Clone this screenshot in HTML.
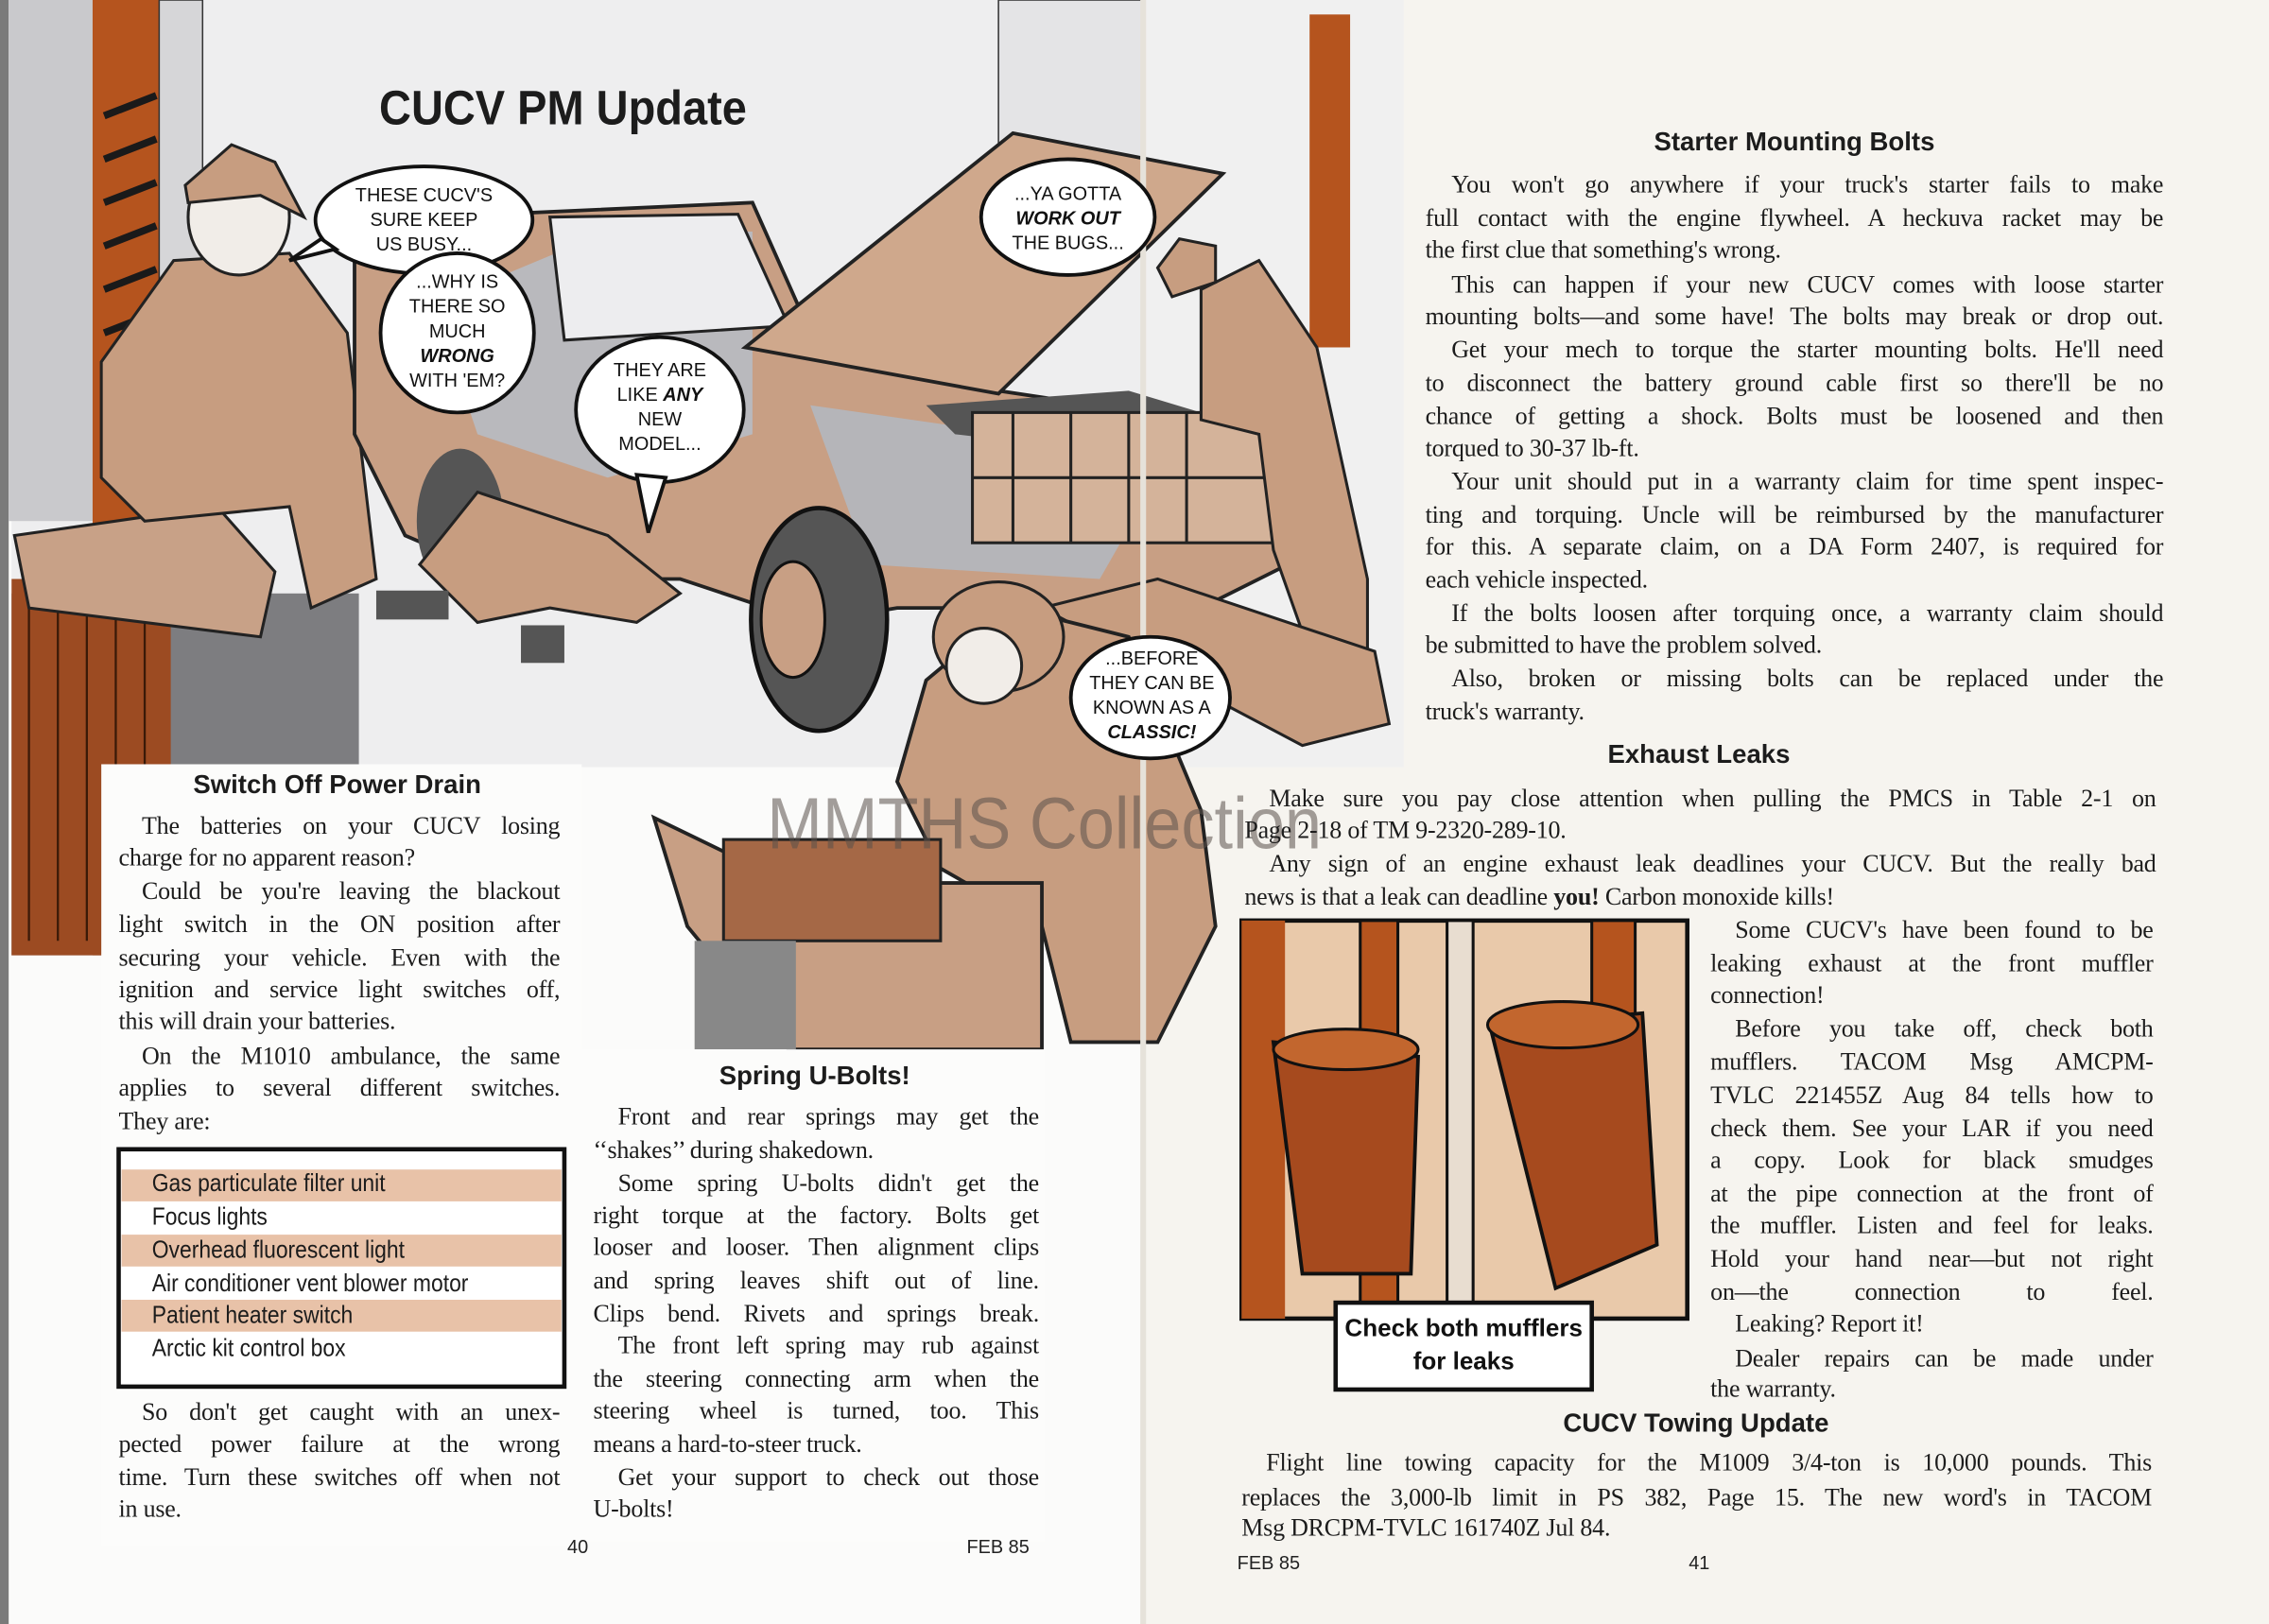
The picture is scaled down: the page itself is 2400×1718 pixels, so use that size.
<!DOCTYPE html>
<html><head><meta charset="utf-8">
<style>
html,body{margin:0;padding:0;background:#f3f0ea;}
#wrap{position:absolute;left:0;top:0;width:1568px;height:1122px;transform:scale(1.53061,1.5312);transform-origin:0 0;overflow:hidden;background:#f5f3ee;}
.l{position:absolute;font-family:"Liberation Serif",serif;font-size:17px;line-height:20px;color:#1c1c1c;white-space:normal;letter-spacing:-0.15px;}
.j{text-align:justify;text-align-last:justify;}
.h{position:absolute;font-family:"Liberation Sans",sans-serif;font-weight:bold;font-size:18px;color:#1c1c1c;transform:translateX(-50%);white-space:nowrap;}
.t{position:absolute;font-family:"Liberation Sans",sans-serif;font-size:17px;color:#1c1c1c;transform:scaleX(0.88);transform-origin:0 0;white-space:nowrap;}
.pn{position:absolute;font-family:"Liberation Sans",sans-serif;font-size:13px;color:#222;}
.b{position:absolute;font-family:"Liberation Sans",sans-serif;font-size:13px;line-height:17px;color:#111;text-align:center;white-space:nowrap;}
</style></head><body>
<div id="wrap">
<svg width="1568" height="1122" style="position:absolute;left:0;top:0">
 <rect x="0" y="0" width="790" height="1122" fill="#fbfbfa"/>
 <rect x="790" y="0" width="778" height="1122" fill="#f6f4ef"/>
 <rect x="8" y="0" width="782" height="530" fill="#eeeeef"/>
 <rect x="790" y="0" width="180" height="530" fill="#f0f0f0"/>
 <rect x="0" y="0" width="6" height="1122" fill="#7a7a7a"/>
 <rect x="6" y="0" width="60" height="360" fill="#c9c9cc"/>
 <rect x="64" y="0" width="46" height="660" fill="#b5541e"/>
 <g stroke="#1a1a1a" stroke-width="5">
  <line x1="72" y1="80" x2="108" y2="66"/><line x1="72" y1="110" x2="108" y2="96"/><line x1="72" y1="140" x2="108" y2="126"/><line x1="72" y1="170" x2="108" y2="156"/><line x1="72" y1="200" x2="108" y2="186"/><line x1="72" y1="230" x2="108" y2="216"/><line x1="72" y1="260" x2="108" y2="246"/>
 </g>
 <rect x="110" y="0" width="30" height="330" fill="#d6d6d8" stroke="#333"/>
 <rect x="690" y="0" width="100" height="140" fill="#e4e4e6" stroke="#333"/>
 <rect x="905" y="10" width="28" height="230" fill="#b5541e"/>
 <rect x="8" y="410" width="240" height="250" fill="#7d7d80"/>
 <rect x="8" y="400" width="110" height="260" fill="#9c4b22"/>
 <g stroke="#3a1a08" stroke-width="1.5"><line x1="20" y1="420" x2="20" y2="650"/><line x1="40" y1="420" x2="40" y2="650"/><line x1="60" y1="420" x2="60" y2="650"/><line x1="80" y1="420" x2="80" y2="650"/><line x1="100" y1="420" x2="100" y2="650"/></g>
 <polygon points="10,370 150,350 190,395 180,440 20,420" fill="#c8a187" stroke="#222" stroke-width="2"/>
 <polygon points="70,250 120,180 200,175 240,230 260,400 215,420 200,350 100,360 70,330" fill="#c79d80" stroke="#222" stroke-width="2"/>
 <ellipse cx="165" cy="150" rx="35" ry="40" fill="#f1ede8" stroke="#222" stroke-width="2"/>
 <polygon points="128,128 160,100 190,112 210,150 180,135 130,140" fill="#c79d80" stroke="#222" stroke-width="2"/>
 <polygon points="245,180 300,150 520,140 560,230 690,270 890,300 890,390 830,420 620,420 560,430 470,400 350,400 280,370 245,300" fill="#c89f84" stroke="#222" stroke-width="2.5"/>
 <polygon points="300,210 420,160 520,160 520,300 420,330 330,300" fill="#b9b9bd"/>
 <polygon points="560,280 700,300 800,330 760,400 600,390" fill="#b5b5b9"/>
 <polygon points="380,150 510,148 545,225 390,235" fill="#ededef" stroke="#222" stroke-width="2"/>
 <polygon points="515,240 700,92 845,120 690,272" fill="#cfa88c" stroke="#222" stroke-width="2.5"/>
 <polygon points="640,280 780,270 880,300 830,320 660,300" fill="#555"/>
 <rect x="672" y="285" width="210" height="90" fill="#d4b39a" stroke="#222" stroke-width="2"/>
 <g stroke="#222" stroke-width="2"><line x1="700" y1="285" x2="700" y2="375"/><line x1="740" y1="285" x2="740" y2="375"/><line x1="780" y1="285" x2="780" y2="375"/><line x1="820" y1="285" x2="820" y2="375"/><line x1="672" y1="330" x2="882" y2="330"/></g>
 <ellipse cx="566" cy="428" rx="47" ry="77" fill="#555" stroke="#111" stroke-width="3"/>
 <ellipse cx="548" cy="428" rx="22" ry="40" fill="#c89f84" stroke="#111" stroke-width="2"/>
 <ellipse cx="318" cy="360" rx="30" ry="50" fill="#555"/>
 <polygon points="290,390 330,340 420,370 470,410 440,430 380,420 330,430" fill="#c79d80" stroke="#222" stroke-width="2"/>
 <rect x="260" y="408" width="50" height="20" fill="#555"/>
 <rect x="360" y="432" width="30" height="26" fill="#555"/>
 <polygon points="830,200 870,180 910,240 945,400 945,465 910,465 880,380 870,300 830,290" fill="#c79d80" stroke="#222" stroke-width="2"/>
 <polygon points="800,185 815,165 840,170 840,195 810,205" fill="#c79d80" stroke="#222" stroke-width="2"/>
 <polygon points="720,420 800,400 950,450 960,500 900,515" fill="#c79d80" stroke="#222" stroke-width="2"/>
 <polygon points="640,470 700,420 780,440 830,560 840,640 800,720 740,720 720,640 650,600 620,540" fill="#c79d80" stroke="#222" stroke-width="2.5"/>
 <ellipse cx="690" cy="440" rx="45" ry="38" fill="#c79d80" stroke="#222" stroke-width="2"/>
 <ellipse cx="680" cy="460" rx="26" ry="26" fill="#f1ede8" stroke="#222" stroke-width="2"/>
 <polygon points="452,565 545,610 720,610 720,725 545,725 475,640" fill="#c89f84" stroke="#222" stroke-width="2.5"/>
 <rect x="500" y="580" width="150" height="70" fill="#a56846" stroke="#222" stroke-width="2"/>
 <rect x="480" y="650" width="70" height="75" fill="#888"/>
 <rect x="788" y="0" width="4" height="1122" fill="#e6e2da"/>
 <rect x="858" y="636" width="308" height="275" fill="#e9c9aa" stroke="#111" stroke-width="3"/>
 <rect x="858" y="636" width="30" height="275" fill="#b5541e"/>
 <rect x="940" y="636" width="26" height="275" fill="#b5541e" stroke="#111" stroke-width="2"/>
 <rect x="1000" y="636" width="18" height="275" fill="#e8ddd0" stroke="#111" stroke-width="2"/>
 <rect x="1100" y="636" width="30" height="130" fill="#b5541e" stroke="#111" stroke-width="2"/>
 <polygon points="880,720 980,730 975,880 900,880" fill="#a64a1e" stroke="#111" stroke-width="2.5"/>
 <polygon points="1030,710 1135,700 1145,860 1075,890" fill="#a64a1e" stroke="#111" stroke-width="2.5"/>
 <ellipse cx="1080" cy="708" rx="52" ry="16" fill="#c2662e" stroke="#111" stroke-width="2"/>
 <ellipse cx="930" cy="725" rx="50" ry="14" fill="#c2662e" stroke="#111" stroke-width="2"/>
 <rect x="923" y="900" width="177" height="60" fill="#fff" stroke="#111" stroke-width="3"/>
 <g fill="#fff" stroke="#111" stroke-width="2.5">
  <ellipse cx="293" cy="152" rx="75" ry="37"/>
  <polygon points="222,165 200,180 232,172"/>
  <ellipse cx="316" cy="230" rx="53" ry="55"/>
  <ellipse cx="456" cy="283" rx="58" ry="50"/>
  <polygon points="440,328 448,368 460,330"/>
  <ellipse cx="738" cy="150" rx="60" ry="40"/>
  <ellipse cx="795" cy="482" rx="55" ry="42"/>
 </g>
 <rect x="70" y="528" width="332" height="540" fill="#fcfcfb"/>
 <rect x="402" y="725" width="320" height="340" fill="#fcfcfb"/>
 <rect x="850" y="530" width="125" height="100" fill="#f6f4ef"/>
 <rect x="82" y="794" width="308" height="164" fill="#fff" stroke="#111" stroke-width="3"/>
 <rect x="84" y="808" width="304" height="22" fill="#e8c2a8"/>
 <rect x="84" y="853" width="304" height="22" fill="#e8c2a8"/>
 <rect x="84" y="898" width="304" height="22" fill="#e8c2a8"/>
</svg>

<div style="position:absolute;left:262px;top:56px;font-family:'Liberation Sans',sans-serif;font-weight:bold;font-size:33px;color:#1c1c1c;transform:scaleX(0.93);transform-origin:0 0;white-space:nowrap">CUCV PM Update</div>

<div class="b" style="left:228px;top:126px;width:130px">THESE CUCV'S<br>SURE KEEP<br>US BUSY...</div>
<div class="b" style="left:268px;top:186px;width:96px">...WHY IS<br>THERE SO<br>MUCH<br><b><i>WRONG</i></b><br>WITH 'EM?</div>
<div class="b" style="left:402px;top:247px;width:108px">THEY ARE<br>LIKE <b><i>ANY</i></b><br>NEW<br>MODEL...</div>
<div class="b" style="left:680px;top:125px;width:116px">...YA GOTTA<br><b><i>WORK OUT</i></b><br>THE BUGS...</div>
<div class="b" style="left:742px;top:446px;width:108px">...BEFORE<br>THEY CAN BE<br>KNOWN AS A<br><b><i>CLASSIC!</i></b></div>

<div style="position:absolute;left:530px;top:540px;font-family:'Liberation Sans',sans-serif;font-size:50px;color:rgba(90,80,75,0.55);white-space:nowrap;transform:scaleX(0.92);transform-origin:0 0">MMTHS Collection</div>

<div class="h" style="left:233px;top:532px">Switch Off Power Drain</div>
<div class="l j" style="left:98px;top:561px;width:289px">The batteries on your CUCV losing</div>
<div class="l" style="left:82px;top:583px;width:305px">charge for no apparent reason?</div>
<div class="l j" style="left:98px;top:606px;width:289px">Could be you're leaving the blackout</div>
<div class="l j" style="left:82px;top:629px;width:305px">light switch in the ON position after</div>
<div class="l j" style="left:82px;top:652px;width:305px">securing your vehicle. Even with the</div>
<div class="l j" style="left:82px;top:674px;width:305px">ignition and service light switches off,</div>
<div class="l" style="left:82px;top:696px;width:305px">this will drain your batteries.</div>
<div class="l j" style="left:98px;top:720px;width:289px">On the M1010 ambulance, the same</div>
<div class="l j" style="left:82px;top:742px;width:305px">applies to several different switches.</div>
<div class="l" style="left:82px;top:765px;width:305px">They are:</div>
<div class="t" style="left:105px;top:808px">Gas particulate filter unit</div>
<div class="t" style="left:105px;top:831px">Focus lights</div>
<div class="t" style="left:105px;top:854px">Overhead fluorescent light</div>
<div class="t" style="left:105px;top:877px">Air conditioner vent blower motor</div>
<div class="t" style="left:105px;top:899px">Patient heater switch</div>
<div class="t" style="left:105px;top:922px">Arctic kit control box</div>
<div class="l j" style="left:98px;top:966px;width:289px">So don't get caught with an unex-</div>
<div class="l j" style="left:82px;top:988px;width:305px">pected power failure at the wrong</div>
<div class="l j" style="left:82px;top:1011px;width:305px">time. Turn these switches off when not</div>
<div class="l" style="left:82px;top:1033px;width:305px">in use.</div>
<div class="pn" style="left:392px;top:1061px">40</div>
<div class="pn" style="left:668px;top:1061px">FEB 85</div>

<div class="h" style="left:563px;top:733px">Spring U-Bolts!</div>
<div class="l j" style="left:427px;top:762px;width:291px">Front and rear springs may get the</div>
<div class="l" style="left:410px;top:785px;width:308px">‘‘shakes’’ during shakedown.</div>
<div class="l j" style="left:427px;top:808px;width:291px">Some spring U-bolts didn't get the</div>
<div class="l j" style="left:410px;top:830px;width:308px">right torque at the factory. Bolts get</div>
<div class="l j" style="left:410px;top:852px;width:308px">looser and looser. Then alignment clips</div>
<div class="l j" style="left:410px;top:875px;width:308px">and spring leaves shift out of line.</div>
<div class="l j" style="left:410px;top:898px;width:308px">Clips bend. Rivets and springs break.</div>
<div class="l j" style="left:427px;top:920px;width:291px">The front left spring may rub against</div>
<div class="l j" style="left:410px;top:943px;width:308px">the steering connecting arm when the</div>
<div class="l j" style="left:410px;top:965px;width:308px">steering wheel is turned, too. This</div>
<div class="l" style="left:410px;top:988px;width:308px">means a hard-to-steer truck.</div>
<div class="l j" style="left:427px;top:1011px;width:291px">Get your support to check out those</div>
<div class="l" style="left:410px;top:1033px;width:308px">U-bolts!</div>

<div class="h" style="left:1240px;top:88px">Starter Mounting Bolts</div>
<div class="l j" style="left:1003px;top:118px;width:492px">You won't go anywhere if your truck's starter fails to make</div>
<div class="l j" style="left:985px;top:141px;width:510px">full contact with the engine flywheel. A heckuva racket may be</div>
<div class="l" style="left:985px;top:163px;width:510px">the first clue that something's wrong.</div>
<div class="l j" style="left:1003px;top:187px;width:492px">This can happen if your new CUCV comes with loose starter</div>
<div class="l j" style="left:985px;top:209px;width:510px">mounting bolts—and some have! The bolts may break or drop out.</div>
<div class="l j" style="left:1003px;top:232px;width:492px">Get your mech to torque the starter mounting bolts. He'll need</div>
<div class="l j" style="left:985px;top:255px;width:510px">to disconnect the battery ground cable first so there'll be no</div>
<div class="l j" style="left:985px;top:278px;width:510px">chance of getting a shock. Bolts must be loosened and then</div>
<div class="l" style="left:985px;top:300px;width:510px">torqued to 30-37 lb-ft.</div>
<div class="l j" style="left:1003px;top:323px;width:492px">Your unit should put in a warranty claim for time spent inspec-</div>
<div class="l j" style="left:985px;top:346px;width:510px">ting and torquing. Uncle will be reimbursed by the manufacturer</div>
<div class="l j" style="left:985px;top:368px;width:510px">for this. A separate claim, on a DA Form 2407, is required for</div>
<div class="l" style="left:985px;top:391px;width:510px">each vehicle inspected.</div>
<div class="l j" style="left:1003px;top:414px;width:492px">If the bolts loosen after torquing once, a warranty claim should</div>
<div class="l" style="left:985px;top:436px;width:510px">be submitted to have the problem solved.</div>
<div class="l j" style="left:1003px;top:459px;width:492px">Also, broken or missing bolts can be replaced under the</div>
<div class="l" style="left:985px;top:482px;width:510px">truck's warranty.</div>

<div class="h" style="left:1174px;top:511px">Exhaust Leaks</div>
<div class="l j" style="left:877px;top:542px;width:613px">Make sure you pay close attention when pulling the PMCS in Table 2-1 on</div>
<div class="l" style="left:860px;top:564px;width:630px">Page 2-18 of TM 9-2320-289-10.</div>
<div class="l j" style="left:877px;top:587px;width:613px">Any sign of an engine exhaust leak deadlines your CUCV. But the really bad</div>
<div class="l" style="left:860px;top:610px;width:630px">news is that a leak can deadline <b>you!</b> Carbon monoxide kills!</div>
<div class="l j" style="left:1199px;top:633px;width:289px">Some CUCV's have been found to be</div>
<div class="l j" style="left:1182px;top:656px;width:306px">leaking exhaust at the front muffler</div>
<div class="l" style="left:1182px;top:678px;width:306px">connection!</div>
<div class="l j" style="left:1199px;top:701px;width:289px">Before you take off, check both</div>
<div class="l j" style="left:1182px;top:724px;width:306px">mufflers. TACOM Msg AMCPM-</div>
<div class="l j" style="left:1182px;top:747px;width:306px">TVLC 221455Z Aug 84 tells how to</div>
<div class="l j" style="left:1182px;top:770px;width:306px">check them. See your LAR if you need</div>
<div class="l j" style="left:1182px;top:792px;width:306px">a copy. Look for black smudges</div>
<div class="l j" style="left:1182px;top:815px;width:306px">at the pipe connection at the front of</div>
<div class="l j" style="left:1182px;top:837px;width:306px">the muffler. Listen and feel for leaks.</div>
<div class="l j" style="left:1182px;top:860px;width:306px">Hold your hand near—but not right</div>
<div class="l j" style="left:1182px;top:883px;width:306px">on—the connection to feel.</div>
<div class="l" style="left:1199px;top:905px;width:289px">Leaking? Report it!</div>
<div class="l j" style="left:1199px;top:929px;width:289px">Dealer repairs can be made under</div>
<div class="l" style="left:1182px;top:950px;width:306px">the warranty.</div>
<div style="position:absolute;left:923px;top:906px;width:177px;text-align:center;font-family:'Liberation Sans',sans-serif;font-weight:bold;font-size:17px;line-height:23px;color:#111">Check both mufflers<br>for leaks</div>

<div class="h" style="left:1172px;top:973px">CUCV Towing Update</div>
<div class="l j" style="left:875px;top:1001px;width:612px">Flight line towing capacity for the M1009 3/4-ton is 10,000 pounds. This</div>
<div class="l j" style="left:858px;top:1025px;width:629px">replaces the 3,000-lb limit in PS 382, Page 15. The new word's in TACOM</div>
<div class="l" style="left:858px;top:1046px;width:629px">Msg DRCPM-TVLC 161740Z Jul 84.</div>
<div class="pn" style="left:855px;top:1072px">FEB 85</div>
<div class="pn" style="left:1167px;top:1072px">41</div>
</div>
</body></html>
